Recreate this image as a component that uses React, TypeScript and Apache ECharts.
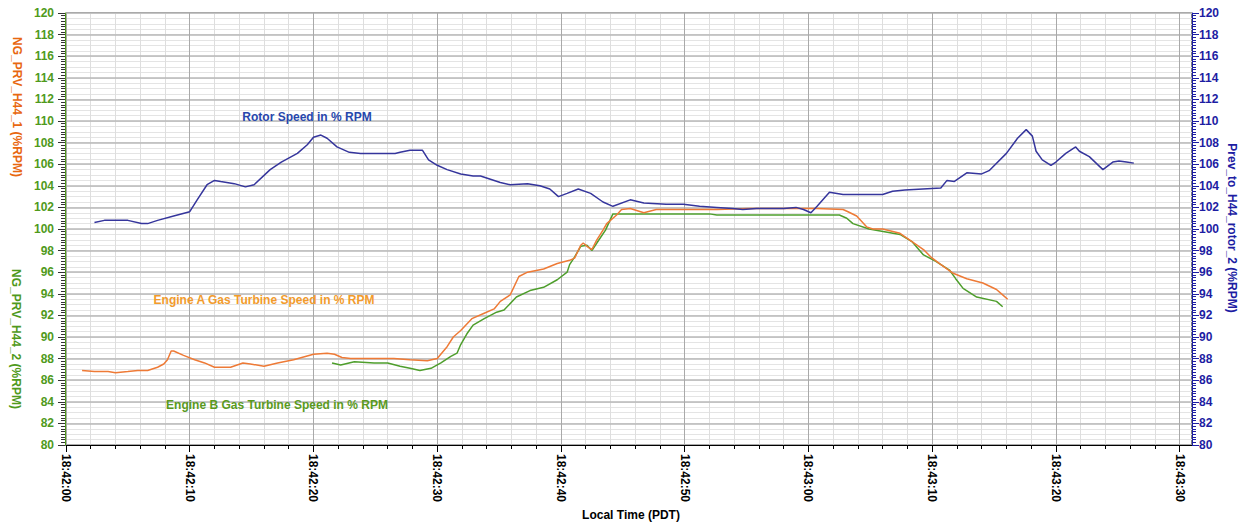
import React, { useEffect, useRef } from "react";
import * as echarts from "echarts";

const FONT = "'Liberation Sans', Arial, sans-serif";

// Seconds after 18:42:00 for the labelled time ticks
const timeTicks = [0, 10, 20, 30, 40, 50, 60, 70, 80, 90];
const timeMinorTicks = [
  0, 2, 4, 6, 8, 10, 12, 14, 16, 18, 20, 22, 24, 26, 28, 30, 32, 34, 36, 38, 40, 42, 44, 46,
  48, 50, 52, 54, 56, 58, 60, 62, 64, 66, 68, 70, 72, 74, 76, 78, 80, 82, 84, 86, 88, 90,
];

// [seconds after 18:42:00, % RPM]
const rotorSpeed: [number, number][] = [
  [2.3, 100.6], [3.1, 100.8], [5.0, 100.8], [6.1, 100.5], [6.6, 100.5], [7.4, 100.8],
  [8.7, 101.2], [10.0, 101.6], [10.6, 102.7], [11.4, 104.1], [12.0, 104.5], [12.5, 104.4],
  [13.6, 104.2], [14.5, 103.9], [15.2, 104.1], [16.5, 105.5], [17.4, 106.2], [18.7, 107.0],
  [19.5, 107.8], [20.0, 108.5], [20.6, 108.7], [21.1, 108.4], [21.9, 107.6], [22.9, 107.1],
  [23.8, 107.0], [26.6, 107.0], [27.0, 107.1], [27.8, 107.3], [28.8, 107.3], [29.3, 106.4],
  [30.0, 105.9], [30.8, 105.5], [31.9, 105.1], [32.9, 104.9], [33.5, 104.9], [34.3, 104.6],
  [35.1, 104.3], [35.9, 104.1], [37.3, 104.2], [38.3, 104.0], [39.1, 103.7], [39.8, 103.0],
  [40.5, 103.3], [41.4, 103.7], [42.4, 103.3], [43.4, 102.5], [44.2, 102.1], [45.6, 102.7],
  [46.7, 102.4], [48.5, 102.3], [49.9, 102.3], [51.2, 102.1], [52.6, 102.0], [53.9, 101.9],
  [54.7, 101.8], [55.8, 101.9], [58.0, 101.9], [59.0, 102.0], [59.6, 101.8], [60.2, 101.5],
  [60.7, 102.1], [61.7, 103.4], [62.8, 103.2], [66.0, 103.2], [66.8, 103.5], [67.8, 103.6],
  [70.7, 103.8], [71.2, 104.5], [71.8, 104.4], [72.8, 105.2], [74.0, 105.1], [74.6, 105.4],
  [76.0, 107.0], [76.9, 108.4], [77.6, 109.2], [78.1, 108.6], [78.4, 107.2], [78.9, 106.4],
  [79.6, 105.9], [80.0, 106.2], [80.8, 107.0], [81.6, 107.6], [81.9, 107.2], [82.7, 106.7],
  [83.8, 105.5], [84.6, 106.2], [85.1, 106.3], [85.7, 106.2], [86.3, 106.1],
];

const engineASpeed: [number, number][] = [
  [1.3, 86.9], [2.3, 86.8], [3.4, 86.8], [4.0, 86.7], [5.0, 86.8], [5.8, 86.9], [6.6, 86.9],
  [7.4, 87.2], [7.9, 87.5], [8.2, 87.9], [8.5, 88.7], [8.7, 88.7], [9.5, 88.3], [10.4, 87.9],
  [11.2, 87.6], [12.0, 87.2], [12.8, 87.2], [13.3, 87.2], [14.3, 87.6], [14.9, 87.5],
  [16.0, 87.3], [17.1, 87.6], [18.4, 87.9], [20.0, 88.4], [21.1, 88.5], [21.7, 88.4],
  [22.3, 88.1], [23.0, 88.0], [26.5, 88.0], [27.8, 87.9], [29.2, 87.8], [30.0, 88.0],
  [30.8, 89.1], [31.3, 90.0], [31.9, 90.6], [32.8, 91.7], [33.8, 92.2], [34.6, 92.6],
  [35.1, 93.3], [35.9, 93.9], [36.6, 95.6], [37.3, 96.0], [38.6, 96.3], [39.7, 96.8],
  [40.7, 97.1], [41.1, 97.3], [41.6, 98.5], [41.8, 98.7], [42.1, 98.4], [42.5, 98.1],
  [42.9, 99.0], [43.4, 99.9], [43.7, 100.5], [44.5, 101.3], [44.9, 101.8], [45.6, 101.9],
  [46.7, 101.5], [47.7, 101.8], [49.9, 101.8], [52.6, 101.8], [55.3, 101.9], [58.0, 101.9],
  [60.7, 101.9], [62.8, 101.8], [63.2, 101.6], [63.9, 101.2], [64.7, 100.2], [65.2, 100.0],
  [66.0, 100.0], [67.4, 99.6], [68.4, 98.8], [69.3, 98.1], [69.9, 97.4], [70.6, 96.8],
  [71.7, 95.9], [72.8, 95.4], [74.1, 95.0], [75.2, 94.4], [75.7, 93.9], [76.1, 93.5],
];

const engineBSpeed: [number, number][] = [
  [21.5, 87.6], [22.2, 87.4], [23.3, 87.7], [24.9, 87.6], [26.0, 87.6], [27.0, 87.3],
  [27.8, 87.1], [28.6, 86.9], [29.5, 87.1], [30.3, 87.6], [31.1, 88.2], [31.6, 88.5],
  [31.9, 89.3], [32.4, 90.3], [32.9, 91.1], [33.8, 91.7], [34.8, 92.3], [35.4, 92.5],
  [36.4, 93.7], [37.5, 94.3], [38.6, 94.6], [39.7, 95.3], [40.5, 96.0], [40.7, 96.7],
  [41.1, 97.4], [41.6, 98.4], [42.1, 98.5], [42.5, 98.0], [42.9, 98.7], [43.6, 99.9],
  [44.2, 101.4], [44.8, 101.4], [47.2, 101.4], [52.0, 101.4], [52.6, 101.3], [58.0, 101.3],
  [62.5, 101.3], [63.1, 101.0], [63.6, 100.5], [64.9, 100.0], [67.4, 99.5], [68.4, 98.8],
  [69.3, 97.6], [70.3, 97.0], [71.4, 96.2], [71.9, 95.4], [72.5, 94.5], [73.6, 93.7],
  [75.2, 93.3], [75.7, 92.8],
];

function clockLabel(sec: number): string {
  const t = 18 * 3600 + 42 * 60 + Math.round(sec);
  const h = Math.floor(t / 3600);
  const m = Math.floor((t % 3600) / 60);
  const s = t % 60;
  return `${h}:${String(m).padStart(2, "0")}:${String(s).padStart(2, "0")}`;
}

const GREEN = "#4f9a1c";
const BLUE = "#1d1da3";
const labelText = (color: string) => ({
  color,
  fontFamily: FONT,
  fontWeight: "bold" as const,
  fontSize: 12,
});

export default function App() {
  const ref = useRef<HTMLDivElement>(null);

  useEffect(() => {
    if (!ref.current) return;
    const chart = echarts.init(ref.current, undefined, { renderer: "svg" });

    const yCommon = {
      type: "value" as const,
      min: 80,
      max: 120,
      interval: 2,
    };

    chart.setOption({
      animation: false,
      backgroundColor: "#ffffff",
      grid: {
        left: 66,
        right: 52,
        top: 13,
        bottom: 80,
        show: true,
        borderColor: "#000000",
        borderWidth: 1,
        backgroundColor: "#ffffff",
      },
      xAxis: [
        {
          type: "value",
          min: 0,
          max: 91,
          interval: 10,
          position: "bottom",
          z: 1,
          axisLine: { show: true, onZero: false, lineStyle: { color: "#000", width: 1 } },
          axisTick: { show: true, length: 7, customValues: timeTicks, lineStyle: { color: "#000" } },
          axisLabel: {
            customValues: timeTicks,
            rotate: -90,
            margin: 9,
            formatter: (v: number) => clockLabel(v),
            ...labelText("#000"),
          },
          splitLine: { show: true, lineStyle: { color: "#a9a9a9", width: 1 } },
        },
        {
          type: "value",
          min: 0,
          max: 91,
          interval: 2,
          position: "bottom",
          z: 0,
          axisLine: { show: false, onZero: false },
          axisTick: { show: true, length: 4, customValues: timeMinorTicks, lineStyle: { color: "#000" } },
          axisLabel: { show: false },
          splitLine: { show: true, lineStyle: { color: "#dedede", width: 1 } },
        },
      ],
      yAxis: [
        {
          ...yCommon,
          position: "left",
          offset: 1,
          z: 1,
          axisLine: { show: true, onZero: false, lineStyle: { color: GREEN, width: 1 } },
          axisTick: { show: true, length: 7, lineStyle: { color: "#333" } },
          minorTick: { show: true, splitNumber: 8, length: 4, lineStyle: { color: "#333" } },
          axisLabel: { margin: 11, ...labelText(GREEN) },
          splitLine: { show: true, lineStyle: { color: "#b9b9b9", width: 1.5 } },
        },
        {
          ...yCommon,
          position: "right",
          z: 1,
          axisLine: { show: true, onZero: false, lineStyle: { color: BLUE, width: 1 } },
          axisTick: { show: true, length: 7, lineStyle: { color: BLUE } },
          minorTick: { show: true, splitNumber: 8, length: 4, lineStyle: { color: BLUE } },
          axisLabel: { margin: 7, ...labelText(BLUE) },
          splitLine: { show: false },
        },
        {
          type: "value",
          min: 80,
          max: 120,
          interval: 0.5,
          position: "left",
          z: 0,
          axisLine: { show: false },
          axisTick: { show: false },
          axisLabel: { show: false },
          splitLine: { show: true, lineStyle: { color: "#e4e4e4", width: 1 } },
        },
      ],
      series: [
        {
          name: "Prev_to_H44_rotor_2",
          type: "line",
          xAxisIndex: 0,
          yAxisIndex: 1,
          data: rotorSpeed,
          showSymbol: false,
          lineStyle: { color: "#35359c", width: 1.5 },
          z: 4,
        },
        {
          name: "NG_PRV_H44_2",
          type: "line",
          xAxisIndex: 0,
          yAxisIndex: 0,
          data: engineBSpeed,
          showSymbol: false,
          lineStyle: { color: "#4e9e2c", width: 1.5 },
          z: 3,
        },
        {
          name: "NG_PRV_H44_1",
          type: "line",
          xAxisIndex: 0,
          yAxisIndex: 0,
          data: engineASpeed,
          showSymbol: false,
          lineStyle: { color: "#ee7a36", width: 1.5 },
          z: 3,
        },
      ],
      graphic: [
        {
          type: "text",
          x: 17,
          y: 107,
          rotation: -Math.PI / 2,
          style: {
            text: "NG_PRV_H44_1 (%RPM)",
            align: "center",
            verticalAlign: "middle",
            fill: "#e8680f",
            font: `bold 12px ${FONT}`,
          },
        },
        {
          type: "text",
          x: 16,
          y: 339,
          rotation: -Math.PI / 2,
          style: {
            text: "NG_PRV_H44_2 (%RPM)",
            align: "center",
            verticalAlign: "middle",
            fill: GREEN,
            font: `bold 12px ${FONT}`,
          },
        },
        {
          type: "text",
          x: 1232,
          y: 228,
          rotation: -Math.PI / 2,
          style: {
            text: "Prev_to_H44_rotor_2 (%RPM)",
            align: "center",
            verticalAlign: "middle",
            fill: BLUE,
            font: `bold 12px ${FONT}`,
          },
        },
        {
          type: "text",
          x: 631,
          y: 515,
          style: {
            text: "Local Time (PDT)",
            align: "center",
            verticalAlign: "middle",
            fill: "#000",
            font: `bold 12px ${FONT}`,
          },
        },
        {
          type: "text",
          x: 307,
          y: 117,
          z: 10,
          style: {
            text: "Rotor Speed in % RPM",
            align: "center",
            verticalAlign: "middle",
            fill: "#2747ad",
            font: `bold 12px ${FONT}`,
          },
        },
        {
          type: "text",
          x: 264,
          y: 300,
          z: 10,
          style: {
            text: "Engine A Gas Turbine Speed in % RPM",
            align: "center",
            verticalAlign: "middle",
            fill: "#f29b2c",
            font: `bold 12px ${FONT}`,
          },
        },
        {
          type: "text",
          x: 277,
          y: 405,
          z: 10,
          style: {
            text: "Engine B Gas Turbine Speed in % RPM",
            align: "center",
            verticalAlign: "middle",
            fill: "#5a9a1e",
            font: `bold 12px ${FONT}`,
          },
        },
      ],
    });

    return () => chart.dispose();
  }, []);

  return (
    <div
      ref={ref}
      style={{ position: "fixed", left: 0, top: 0, width: 1244, height: 525, background: "#fff" }}
    />
  );
}
